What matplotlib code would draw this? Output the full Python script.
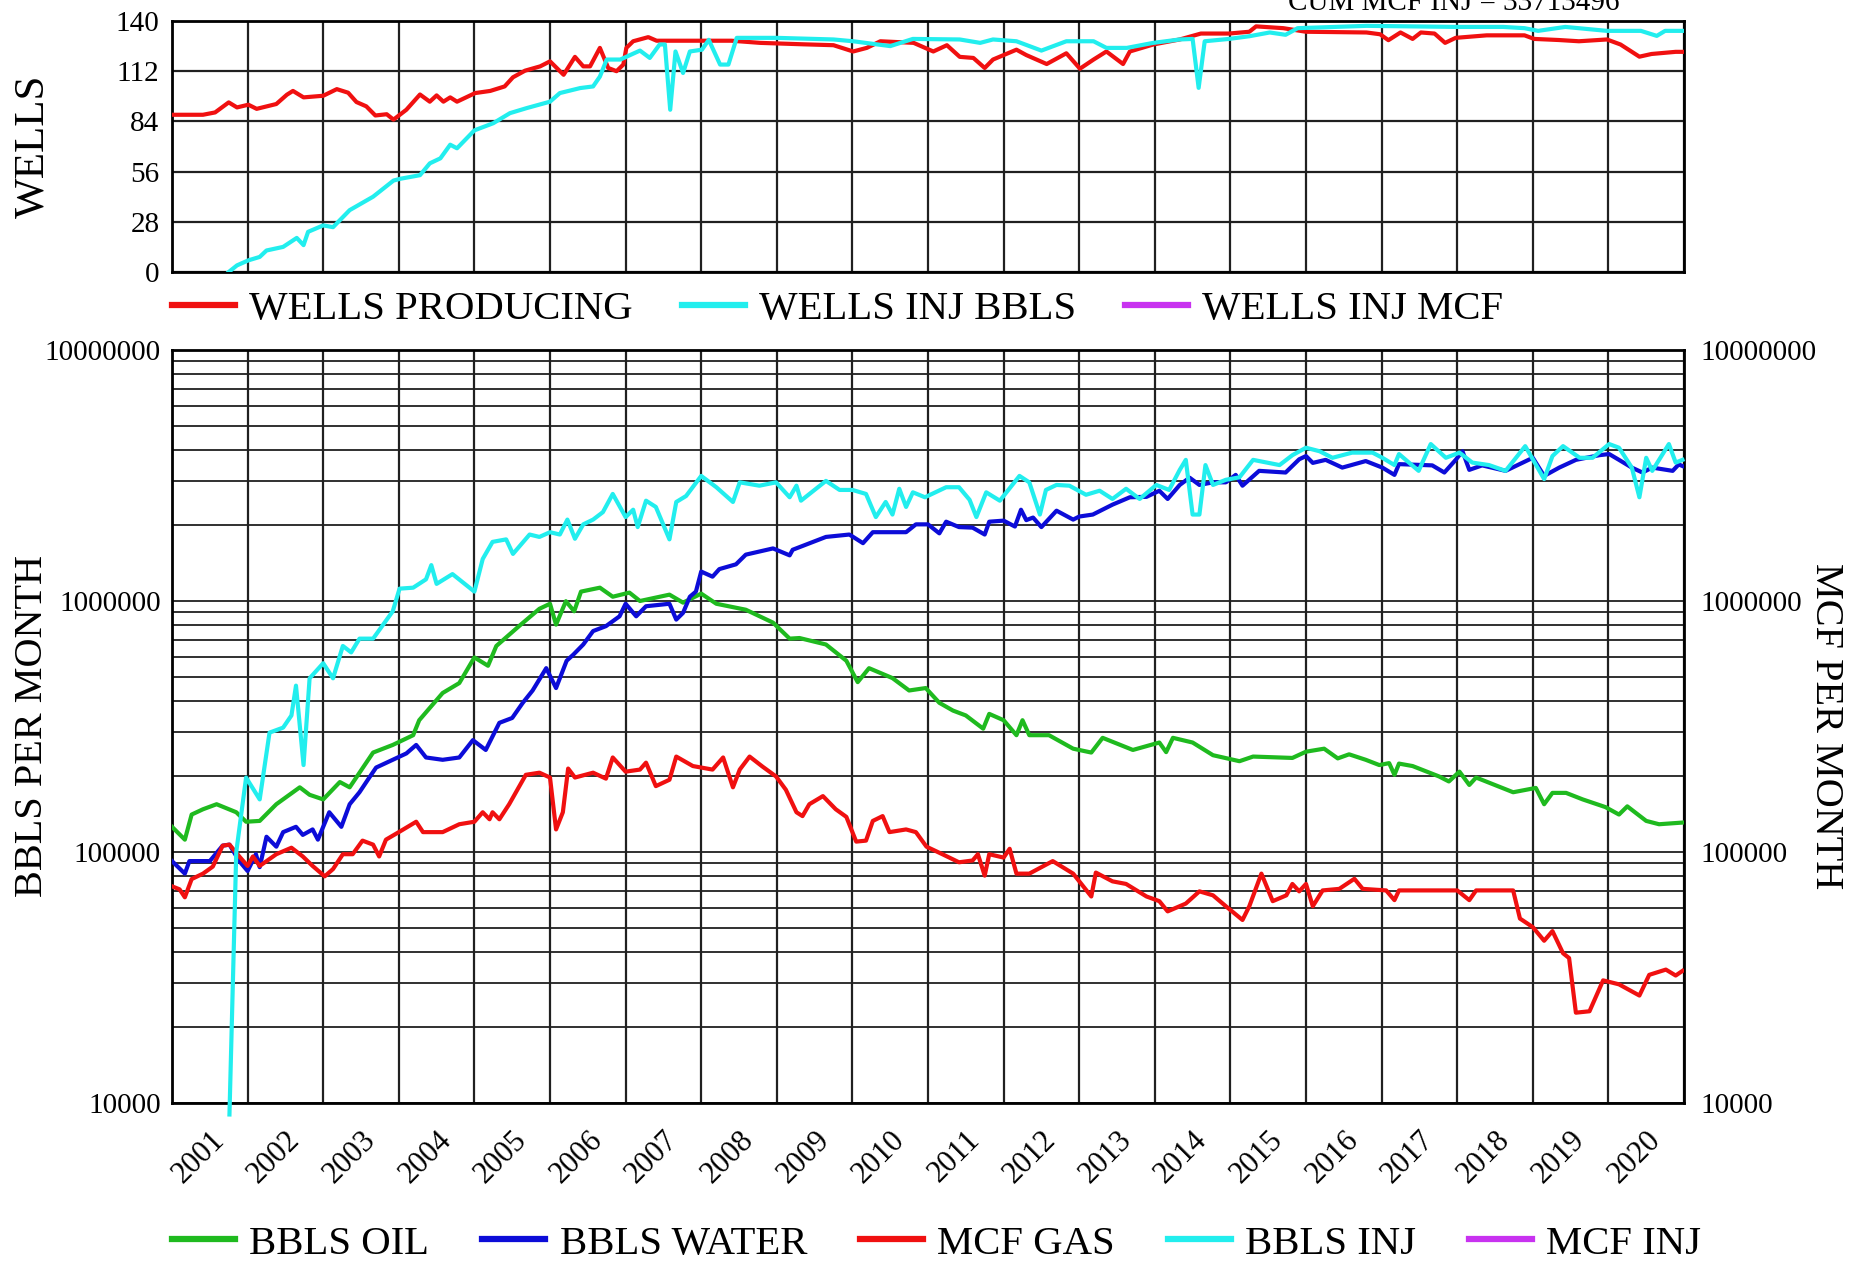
import matplotlib
matplotlib.use("Agg")
import matplotlib.pyplot as plt

plt.rcParams["font.family"] = ["Liberation Serif", "DejaVu Serif"]

# ---- data (year fraction, value) ----
years = list(range(2001, 2021))

prod_t = [2001.0, 2001.41, 2001.57, 2001.75, 2001.86, 2002.01, 2002.12, 2002.38, 2002.52, 2002.60,
          2002.74, 2003.0, 2003.18, 2003.33, 2003.44, 2003.57, 2003.69, 2003.84, 2003.93, 2004.10,
          2004.28, 2004.41, 2004.50, 2004.59, 2004.68, 2004.77, 2005.01, 2005.21, 2005.40, 2005.51,
          2005.67, 2005.87, 2006.0, 2006.18, 2006.33, 2006.44, 2006.53, 2006.66, 2006.77, 2006.88,
          2006.97, 2007.01, 2007.10, 2007.30, 2007.41, 2008.4, 2008.78, 2009.35, 2009.75, 2010.01,
          2010.19, 2010.37, 2010.81, 2011.07, 2011.25, 2011.42, 2011.6, 2011.75, 2011.86, 2012.17,
          2012.3, 2012.57, 2012.83, 2013.01, 2013.19, 2013.36, 2013.58, 2013.67, 2013.98, 2014.33,
          2014.61, 2014.98, 2015.25, 2015.34, 2015.7, 2016.0, 2016.8, 2016.98, 2017.09, 2017.25,
          2017.41, 2017.52, 2017.7, 2017.84, 2017.98, 2018.39, 2018.89, 2019.02, 2019.34, 2019.61,
          2019.98, 2020.16, 2020.41, 2020.57, 2020.89, 2020.98]
wells_producing = [87.7, 87.7, 89, 94.6, 91.8, 93.3, 91, 93.7, 98.9, 101,
                   97.4, 98.3, 102, 100, 94.8, 92.4, 87.3, 88, 85, 90.5,
                   99, 95, 98.5, 95, 97.4, 95, 99.8, 101, 103.5, 108.6,
                   112.3, 114.7, 117.5, 110, 120, 114.7, 114.7, 125, 113.8, 112,
                   115.7, 125, 128.7, 131, 129, 129, 127.8, 127, 126.5, 123,
                   125, 128.7, 127.8, 123, 126.5, 120, 119.4, 113.8, 118.5, 124,
                   121, 116, 122, 113.4, 118.5, 123, 116, 123, 126.9, 129.7,
                   133, 133, 134, 137, 136, 134, 133.6, 132.6, 129.3, 133.6,
                   130, 133.6, 133, 127.8, 130.6, 132, 132, 130, 129.4, 128.7,
                   129.7, 126.9, 120.1, 121.6, 122.8, 122.8]

injw_t = [2001.75, 2001.86, 2002.01, 2002.16, 2002.25, 2002.47, 2002.65, 2002.74, 2002.8, 2003.0,
          2003.13, 2003.35, 2003.66, 2003.93, 2004.02, 2004.28, 2004.41, 2004.55, 2004.68, 2004.77,
          2005.0, 2005.25, 2005.47, 2005.69, 2006.0, 2006.13, 2006.40, 2006.57, 2006.66, 2006.75,
          2006.93, 2007.06, 2007.19, 2007.32, 2007.45, 2007.52, 2007.59, 2007.66, 2007.76, 2007.85,
          2008.01, 2008.1, 2008.25, 2008.36, 2008.47, 2009.0, 2009.75, 2010.01, 2010.5, 2010.8,
          2011.42, 2011.69, 2011.86, 2012.17, 2012.5, 2012.83, 2013.19, 2013.36, 2013.63, 2013.98,
          2014.33, 2014.5, 2014.58, 2014.66, 2014.98, 2015.25, 2015.52, 2015.73, 2015.89, 2016.8,
          2017.98, 2018.61, 2018.89, 2019.07, 2019.43, 2019.98, 2020.43, 2020.64, 2020.75, 2020.98]
wells_inj_bbls = [0, 3.7, 6.5, 8.4, 12, 14, 19, 15, 22.4, 26,
                  25, 34.5, 42, 51, 52, 54, 60.6, 63.4, 71, 69,
                  79, 83, 88.6, 91.4, 95, 99.8, 102.6, 103.5, 109, 118.5,
                  118.5, 121, 123.5, 119.4, 126.9, 126.9, 90.5, 123, 111, 123,
                  124, 129.5, 115.7, 115.7, 130.6, 130.6, 129.7, 128.7, 126, 130,
                  129.7, 127.8, 129.7, 128.7, 123.5, 128.7, 128.7, 125, 125, 127.8,
                  129.7, 130, 102.7, 128.7, 130, 131.5, 133.6, 132.3, 136, 137.3,
                  136.7, 136.7, 136, 134.5, 136.7, 134.5, 134.5, 131.7, 134.5, 134.5]

oil_t = [2001.0, 2001.17, 2001.26, 2001.41, 2001.59, 2001.85, 2001.98, 2002.16, 2002.38, 2002.69,
         2002.82, 2003.0, 2003.22, 2003.35, 2003.66, 2003.92, 2004.19, 2004.27, 2004.58, 2004.8,
         2005.0, 2005.18, 2005.29, 2005.59, 2005.86, 2006.0, 2006.08, 2006.21, 2006.32, 2006.41,
         2006.66, 2006.83, 2007.05, 2007.19, 2007.58, 2007.76, 2008.0, 2008.2, 2008.59, 2008.95,
         2009.17, 2009.3, 2009.65, 2009.92, 2010.07, 2010.22, 2010.53, 2010.75, 2010.97, 2011.15,
         2011.33, 2011.5, 2011.73, 2011.81, 2012.0, 2012.17, 2012.25, 2012.34, 2012.6, 2012.92,
         2013.16, 2013.31, 2013.71, 2014.06, 2014.15, 2014.24, 2014.5, 2014.77, 2015.12, 2015.3,
         2015.82, 2016.0, 2016.24, 2016.42, 2016.57, 2016.79, 2016.97, 2017.1, 2017.17, 2017.23,
         2017.41, 2017.76, 2017.89, 2018.03, 2018.16, 2018.25, 2018.74, 2019.04, 2019.15, 2019.26,
         2019.44, 2019.66, 2019.96, 2020.14, 2020.25, 2020.5, 2020.67, 2020.98]
bbls_oil = [126000, 112000, 141000, 148000, 155000, 144000, 132000, 133000, 155000, 181000,
            169000, 162000, 190000, 181000, 249000, 267000, 292000, 335000, 430000, 471000,
            596000, 552000, 662000, 794000, 931000, 975000, 805000, 998000, 910000, 1090000,
            1130000, 1040000, 1080000, 1000000, 1060000, 985000, 1070000, 975000, 923000, 820000,
            708000, 712000, 671000, 578000, 475000, 540000, 493000, 440000, 450000, 393000,
            366000, 350000, 310000, 355000, 335000, 292000, 335000, 292000, 292000, 258000,
            249000, 285000, 255000, 273000, 250000, 285000, 273000, 243000, 230000, 240000,
            237000, 251000, 258000, 236000, 245000, 233000, 222000, 226000, 203000, 225000,
            220000, 200000, 191000, 209000, 185000, 198000, 173000, 180000, 155000, 172000,
            172000, 162000, 151000, 141000, 152000, 133000, 129000, 131000]

water_t = [2001.0, 2001.17, 2001.23, 2001.5, 2001.67, 2001.76, 2001.89, 2002.0, 2002.11, 2002.16,
           2002.25, 2002.38, 2002.47, 2002.64, 2002.73, 2002.86, 2002.93, 2003.0, 2003.08, 2003.24,
           2003.35, 2003.48, 2003.61, 2003.7, 2003.92, 2004.1, 2004.23, 2004.36, 2004.58, 2004.8,
           2004.98, 2005.15, 2005.33, 2005.5, 2005.64, 2005.77, 2005.95, 2006.08, 2006.22, 2006.31,
           2006.44, 2006.57, 2006.74, 2006.92, 2007.0, 2007.14, 2007.27, 2007.58, 2007.67, 2007.76,
           2007.85, 2007.93, 2008.0, 2008.15, 2008.24, 2008.46, 2008.59, 2008.95, 2009.17, 2009.21,
           2009.65, 2009.96, 2010.14, 2010.27, 2010.71, 2010.84, 2011.0, 2011.15, 2011.24, 2011.41,
           2011.59, 2011.75, 2011.81, 2012.0, 2012.15, 2012.23, 2012.3, 2012.39, 2012.5, 2012.7,
           2012.92, 2013.0, 2013.18, 2013.44, 2013.67, 2013.89, 2014.06, 2014.17, 2014.33, 2014.46,
           2014.59, 2014.77, 2014.94, 2015.07, 2015.16, 2015.38, 2015.73, 2015.91, 2016.0, 2016.09,
           2016.26, 2016.48, 2016.79, 2017.01, 2017.17, 2017.23, 2017.67, 2017.83, 2017.98, 2018.07,
           2018.16, 2018.33, 2018.64, 2019.0, 2019.15, 2019.35, 2019.57, 2019.88, 2020.01, 2020.14,
           2020.31, 2020.45, 2020.58, 2020.85, 2020.93, 2020.98]
bbls_water = [92000, 82000, 92000, 92000, 106000, 107000, 92000, 84000, 98000, 87000,
              115000, 105000, 120000, 126000, 117000, 123000, 112000, 126000, 144000, 126000,
              155000, 173000, 198000, 217000, 233000, 247000, 267000, 238000, 233000, 238000,
              279000, 255000, 327000, 342000, 393000, 440000, 540000, 450000, 578000, 612000,
              671000, 759000, 794000, 869000, 975000, 869000, 953000, 975000, 843000, 897000,
              1040000, 1090000, 1310000, 1250000, 1340000, 1400000, 1530000, 1620000, 1520000, 1600000,
              1800000, 1840000, 1700000, 1880000, 1880000, 2020000, 2020000, 1860000, 2070000, 1970000,
              1960000, 1840000, 2070000, 2090000, 1980000, 2310000, 2100000, 2150000, 1970000, 2290000,
              2110000, 2170000, 2210000, 2420000, 2590000, 2600000, 2750000, 2550000, 2900000, 3100000,
              2900000, 2970000, 2970000, 3180000, 2880000, 3300000, 3250000, 3670000, 3780000, 3550000,
              3650000, 3400000, 3610000, 3400000, 3180000, 3510000, 3470000, 3250000, 3650000, 3950000,
              3330000, 3470000, 3300000, 3720000, 3150000, 3400000, 3650000, 3810000, 3850000, 3650000,
              3400000, 3250000, 3400000, 3300000, 3500000, 3450000]

gas_t = [2001.0, 2001.1, 2001.17, 2001.26, 2001.41, 2001.54, 2001.67, 2001.76, 2001.89, 2002.0,
         2002.07, 2002.16, 2002.38, 2002.58, 2002.73, 2002.86, 2003.02, 2003.13, 2003.26, 2003.39,
         2003.52, 2003.66, 2003.74, 2003.83, 2004.0, 2004.23, 2004.32, 2004.58, 2004.8, 2005.0,
         2005.11, 2005.2, 2005.24, 2005.33, 2005.46, 2005.68, 2005.86, 2006.0, 2006.08, 2006.17,
         2006.24, 2006.33, 2006.57, 2006.74, 2006.83, 2007.0, 2007.19, 2007.27, 2007.4, 2007.58,
         2007.67, 2007.89, 2008.15, 2008.29, 2008.42, 2008.51, 2008.64, 2008.81, 2008.99, 2009.12,
         2009.26, 2009.34, 2009.43, 2009.61, 2009.78, 2009.92, 2010.05, 2010.18, 2010.27, 2010.4,
         2010.49, 2010.71, 2010.84, 2010.98, 2011.19, 2011.41, 2011.59, 2011.66, 2011.75, 2011.81,
         2012.0, 2012.08, 2012.17, 2012.34, 2012.65, 2012.92, 2013.16, 2013.22, 2013.44, 2013.62,
         2013.89, 2014.06, 2014.17, 2014.41, 2014.59, 2014.77, 2014.94, 2015.16, 2015.25, 2015.41,
         2015.56, 2015.74, 2015.82, 2015.91, 2016.0, 2016.09, 2016.22, 2016.44, 2016.64, 2016.75,
         2017.06, 2017.17, 2017.23, 2017.67, 2018.0, 2018.16, 2018.25, 2018.74, 2018.83, 2019.0,
         2019.15, 2019.26, 2019.4, 2019.48, 2019.57, 2019.75, 2019.93, 2020.14, 2020.41, 2020.54,
         2020.76, 2020.89, 2020.98]
mcf_gas = [73000, 71000, 66000, 78000, 82000, 87500, 106000, 107000, 96000, 88000,
           96000, 88000, 98000, 104000, 96000, 88000, 80000, 85500, 98000, 98000,
           111000, 107000, 96000, 112000, 120000, 132000, 120000, 120000, 129000, 132000,
           144000, 135000, 144000, 135000, 155000, 203000, 207000, 198000, 123000, 144000,
           215000, 198000, 207000, 196000, 238000, 209000, 213000, 227000, 183000, 194000,
           240000, 220000, 213000, 238000, 181000, 213000, 240000, 219000, 200000, 177000,
           144000, 139000, 155000, 167000, 148000, 138000, 110000, 111000, 133000, 139000,
           120000, 123000, 120000, 105000, 98000, 91000, 92500, 98000, 80500, 98000,
           95000, 103000, 82000, 82000, 92000, 82000, 66500, 82800, 76400, 74600,
           66500, 63700, 58000, 62300, 69700, 67200, 60800, 53600, 60800, 82000,
           63700, 67200, 74600, 69700, 74600, 60800, 70300, 71300, 78200, 71300,
           70300, 64300, 70300, 70300, 70300, 64300, 70300, 70300, 54300, 50200,
           44300, 48400, 39500, 37800, 22900, 23200, 30800, 29700, 26800, 32400,
           34000, 32200, 33600]

inj_t = [2001.76, 2001.85, 2001.98, 2002.16, 2002.29, 2002.47, 2002.58, 2002.64, 2002.74, 2002.82,
         2003.0, 2003.13, 2003.26, 2003.37, 2003.48, 2003.66, 2003.92, 2004.01, 2004.19, 2004.36,
         2004.43, 2004.5, 2004.71, 2005.0, 2005.11, 2005.24, 2005.42, 2005.51, 2005.73, 2005.86,
         2006.0, 2006.13, 2006.23, 2006.33, 2006.44, 2006.57, 2006.7, 2006.83, 2007.0, 2007.1,
         2007.16, 2007.27, 2007.4, 2007.58, 2007.67, 2007.8, 2008.0, 2008.2, 2008.42, 2008.51,
         2008.77, 2008.99, 2009.17, 2009.26, 2009.32, 2009.65, 2009.83, 2010.0, 2010.18, 2010.31,
         2010.44, 2010.53, 2010.62, 2010.71, 2010.8, 2010.96, 2011.24, 2011.41, 2011.55, 2011.64,
         2011.77, 2011.95, 2012.21, 2012.34, 2012.48, 2012.56, 2012.7, 2012.87, 2013.09, 2013.27,
         2013.44, 2013.62, 2013.8, 2014.02, 2014.19, 2014.33, 2014.41, 2014.5, 2014.59, 2014.67,
         2014.77, 2014.94, 2015.12, 2015.3, 2015.65, 2015.82, 2016.0, 2016.18, 2016.35, 2016.61,
         2016.88, 2017.01, 2017.17, 2017.23, 2017.49, 2017.65, 2017.85, 2018.03, 2018.2, 2018.42,
         2018.64, 2018.9, 2019.15, 2019.26, 2019.4, 2019.62, 2019.79, 2020.01, 2020.14, 2020.31,
         2020.41, 2020.5, 2020.58, 2020.8, 2020.89, 2020.98]
bbls_inj = [9000, 100000, 198000, 162000, 299000, 313000, 350000, 460000, 222000, 492000,
            565000, 492000, 662000, 624000, 708000, 708000, 910000, 1120000, 1130000, 1220000,
            1390000, 1170000, 1280000, 1090000, 1470000, 1720000, 1760000, 1540000, 1840000, 1800000,
            1880000, 1840000, 2110000, 1770000, 2020000, 2110000, 2260000, 2670000, 2160000, 2310000,
            1970000, 2510000, 2370000, 1760000, 2480000, 2620000, 3150000, 2840000, 2480000, 2970000,
            2880000, 2970000, 2590000, 2880000, 2510000, 3010000, 2770000, 2770000, 2670000, 2160000,
            2480000, 2210000, 2800000, 2370000, 2710000, 2590000, 2840000, 2840000, 2530000, 2160000,
            2710000, 2510000, 3150000, 2970000, 2210000, 2770000, 2900000, 2880000, 2650000, 2750000,
            2550000, 2800000, 2550000, 2900000, 2770000, 3330000, 3650000, 2210000, 2210000, 3480000,
            2900000, 3040000, 3110000, 3650000, 3480000, 3810000, 4080000, 3950000, 3720000, 3900000,
            3900000, 3720000, 3480000, 3850000, 3300000, 4220000, 3720000, 3900000, 3560000, 3480000,
            3300000, 4140000, 3060000, 3780000, 4140000, 3720000, 3720000, 4220000, 4080000, 3400000,
            2590000, 3720000, 3300000, 4220000, 3560000, 3650000]

wells_ticks = [0, 28, 56, 84, 112, 140]
log_ticks = [10000, 100000, 1000000, 10000000]
cum_text = "CUM MCF INJ = 33713496"

RED = "#f01010"
CYAN = "#22eeee"
MAGENTA = "#c832f0"
GREEN = "#1fba1f"
BLUE = "#0c0cd8"
LW = 3.0

W, H = 1852, 1262
fig = plt.figure(figsize=(W / 100, H / 100), dpi=100)

# ---- top panel: wells ----
ax1 = fig.add_axes([172 / W, 1 - 272 / H, (1684 - 172) / W, (272 - 21) / H])
ax1.plot(prod_t, wells_producing, color=RED, lw=LW, label="WELLS PRODUCING", zorder=3)
ax1.plot(injw_t, wells_inj_bbls, color=CYAN, lw=LW, label="WELLS INJ BBLS", zorder=3)
ax1.plot([], [], color=MAGENTA, lw=LW, label="WELLS INJ MCF")
ax1.set_xlim(2001, 2021)
ax1.set_ylim(0, 140)
ax1.set_yticks(wells_ticks)
ax1.set_xticks(range(2001, 2022))
ax1.tick_params(axis="x", length=0, labelbottom=False)
ax1.tick_params(axis="y", length=0, labelsize=21, pad=9)
ax1.grid(True, color="#202020", lw=1.6)
for s in ax1.spines.values():
    s.set_linewidth(2)

# cumulative note sits half off the top edge, as in the source chart
fig.text(1454 / W, 1 - 10 / H, cum_text, ha="center", va="baseline", fontsize=21)
fig.text(33 / W, 1 - 146 / H, "WELLS", rotation=90, ha="center", va="center", fontsize=31)

leg1 = fig.legend(handles=ax1.get_lines(), loc="center left",
                  bbox_to_anchor=(172 / W, 1 - 309 / H), ncol=3, frameon=False,
                  fontsize=29.3, handlelength=1.55, handletextpad=0.35, columnspacing=1.2,
                  borderpad=0, borderaxespad=0)
for h in leg1.legend_handles:
    h.set_linewidth(4.5)

# ---- bottom panel: monthly volumes (log) ----
ax2 = fig.add_axes([172 / W, 1 - 1103 / H, (1684 - 172) / W, (1103 - 350) / H])
ax2.plot(oil_t, bbls_oil, color=GREEN, lw=LW, label="BBLS OIL", zorder=3)
ax2.plot(water_t, bbls_water, color=BLUE, lw=LW, label="BBLS WATER", zorder=3)
ax2.plot(gas_t, mcf_gas, color=RED, lw=LW, label="MCF GAS", zorder=3)
ax2.plot(inj_t, bbls_inj, color=CYAN, lw=LW, label="BBLS INJ", zorder=3, clip_on=False)
ax2.plot([], [], color=MAGENTA, lw=LW, label="MCF INJ")
ax2.set_yscale("log")
ax2.set_xlim(2001, 2021)
ax2.set_ylim(1e4, 1e7)
ax2.set_yticks(log_ticks, [str(v) for v in log_ticks])
ax2.set_xticks(range(2001, 2022))
ax2.set_xticks([y + 0.5 for y in years], [str(y) for y in years], minor=True)
ax2.tick_params(axis="x", which="major", length=0, labelbottom=False)
ax2.tick_params(axis="x", which="minor", length=0, labelsize=22, pad=16)
for lab in ax2.get_xticklabels(minor=True):
    lab.set_rotation(45)
    lab.set_ha("right")
    lab.set_va("top")
    lab.set_rotation_mode("anchor")
ax2.tick_params(axis="y", which="both", length=0, labelsize=21, pad=8)
ax2.yaxis.set_minor_formatter(plt.NullFormatter())
ax2.grid(True, which="major", axis="x", color="#202020", lw=1.6)
ax2.grid(True, which="both", axis="y", color="#202020", lw=1.3)
for s in ax2.spines.values():
    s.set_linewidth(2)

ax3 = ax2.twinx()
ax3.set_yscale("log")
ax3.set_ylim(1e4, 1e7)
ax3.set_yticks(log_ticks, [str(v) for v in log_ticks])
ax3.yaxis.set_minor_formatter(plt.NullFormatter())
ax3.tick_params(axis="y", which="both", length=0, labelsize=21, pad=12)
for s in ax3.spines.values():
    s.set_visible(False)

fig.text(33 / W, 1 - 726 / H, "BBLS PER MONTH", rotation=90, ha="center", va="center", fontsize=29)
fig.text(1826 / W, 1 - 726 / H, "MCF PER MONTH", rotation=270, ha="center", va="center", fontsize=29)

leg2 = fig.legend(handles=ax2.get_lines(), loc="center left",
                  bbox_to_anchor=(172 / W, 1 - 1244 / H), ncol=5, frameon=False,
                  fontsize=29.3, handlelength=1.55, handletextpad=0.35, columnspacing=1.3,
                  borderpad=0, borderaxespad=0)
for h in leg2.legend_handles:
    h.set_linewidth(4.5)

fig.savefig("out.png", dpi=100)
